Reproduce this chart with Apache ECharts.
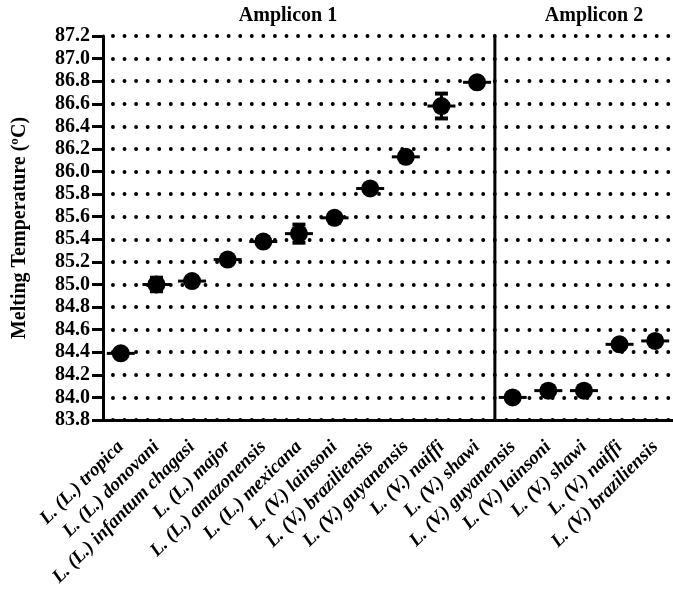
<!DOCTYPE html>
<html>
<head>
<meta charset="utf-8">
<script src="https://cdn.jsdelivr.net/npm/echarts@6/dist/echarts.min.js"></script>
<style>html,body{margin:0;padding:0;background:#fff;}#c{width:673px;height:605px;}</style>
</head>
<body>
<div id="c"></div>
<script>
const categories = [
  'L. (L.) tropica', 'L. (L.) donovani', 'L. (L.) infantum chagasi', 'L. (L.) major',
  'L. (L.) amazonensis', 'L. (L.) mexicana', 'L. (V.) lainsoni', 'L. (V.) braziliensis',
  'L. (V.) guyanensis', 'L. (V.) naiffi', 'L. (V.) shawi',
  'L. (V.) guyanensis', 'L. (V.) lainsoni', 'L. (V.) shawi', 'L. (V.) naiffi', 'L. (V.) braziliensis'
];
const meanValues = [84.39, 85.00, 85.03, 85.22, 85.38, 85.45, 85.59, 85.85, 86.13, 86.58, 86.79,
                    84.00, 84.06, 84.06, 84.47, 84.50];
const sdValues = [0.01, 0.06, 0.03, 0.02, 0.02, 0.08, 0.02, 0.02, 0.02, 0.11, 0.01,
                  0.02, 0.02, 0.02, 0.02, 0.02];
const groupTitles = ['Amplicon 1', 'Amplicon 2'];
const groupBoundary = [10, 11]; // divider drawn between these two categories
const yTicks = { min: 83.8, max: 87.2, step: 0.2 };

const FONT = '"Liberation Serif", "Times New Roman", serif';
const chart = echarts.init(document.getElementById('c'));

const uniqueCats = categories.map((c, i) => i);
const errData = meanValues.map((m, i) => [i, m, sdValues[i]]);
const ptData = meanValues.map((m, i) => [i, m]);

chart.setOption({
  animation: false,
  grid: { left: 103, right: -6, top: 36, bottom: 185 },
  graphic: [
    { type: 'text', x: 288, y: 16, style: { text: groupTitles[0], font: 'bold 20px ' + FONT, fill: '#000', align: 'center', verticalAlign: 'middle' } },
    { type: 'text', x: 594, y: 16, style: { text: groupTitles[1], font: 'bold 20px ' + FONT, fill: '#000', align: 'center', verticalAlign: 'middle' } }
  ],
  xAxis: {
    type: 'category',
    data: uniqueCats,
    boundaryGap: true,
    axisLine: { lineStyle: { color: '#000', width: 3 } },
    axisTick: { alignWithLabel: true, length: 9, lineStyle: { color: '#000', width: 3 } },
    axisLabel: {
      interval: 0, rotate: 45, margin: 24,
      formatter: (v) => categories[+v],
      fontFamily: FONT, fontWeight: 'bold', fontStyle: 'italic', fontSize: 19, color: '#000'
    },
    splitLine: { show: false }
  },
  yAxis: {
    type: 'value',
    min: yTicks.min, max: yTicks.max, interval: yTicks.step,
    name: 'Melting Temperature (ºC)',
    nameLocation: 'middle', nameGap: 73,
    nameTextStyle: { fontFamily: FONT, fontWeight: 'bold', fontSize: 20, color: '#000' },
    axisLine: { show: true, lineStyle: { color: '#000', width: 3 } },
    axisTick: { show: true, length: 11, lineStyle: { color: '#000', width: 3 } },
    axisLabel: {
      margin: 13,
      formatter: (v) => v.toFixed(1),
      fontFamily: FONT, fontWeight: 'bold', fontSize: 20, color: '#000'
    },
    splitLine: {
      show: true,
      lineStyle: { color: '#000', width: 3.8, type: [0.1, 11.47], dashOffset: 1.67, cap: 'round' }
    }
  },
  series: [
    {
      type: 'custom',
      data: [groupBoundary],
      z: 2,
      silent: true,
      renderItem: function (params, api) {
        const a = api.coord([api.value(0), yTicks.max]);
        const b = api.coord([api.value(1), yTicks.min]);
        const x = (a[0] + b[0]) / 2;
        return { type: 'line', shape: { x1: x, y1: a[1], x2: x, y2: b[1] }, style: { stroke: '#000', lineWidth: 3 } };
      }
    },
    {
      type: 'custom',
      data: errData,
      z: 3,
      renderItem: function (params, api) {
        const x = api.value(0), m = api.value(1), sd = api.value(2);
        const c = api.coord([x, m]);
        const top = api.coord([x, m + sd]);
        const bot = api.coord([x, m - sd]);
        const style = { stroke: '#000', lineWidth: 3 };
        return {
          type: 'group',
          children: [
            { type: 'line', shape: { x1: c[0] - 14, y1: c[1], x2: c[0] + 14, y2: c[1] }, style: style },
            { type: 'line', shape: { x1: c[0], y1: top[1], x2: c[0], y2: bot[1] }, style: style },
            { type: 'line', shape: { x1: c[0] - 6.5, y1: top[1], x2: c[0] + 6.5, y2: top[1] }, style: { stroke: '#000', lineWidth: 4 } },
            { type: 'line', shape: { x1: c[0] - 6.5, y1: bot[1], x2: c[0] + 6.5, y2: bot[1] }, style: { stroke: '#000', lineWidth: 4 } }
          ]
        };
      }
    },
    {
      type: 'scatter',
      data: ptData,
      symbol: 'circle',
      symbolSize: 18,
      z: 4,
      itemStyle: { color: '#000', opacity: 1 }
    }
  ]
});
</script>
</body>
</html>
